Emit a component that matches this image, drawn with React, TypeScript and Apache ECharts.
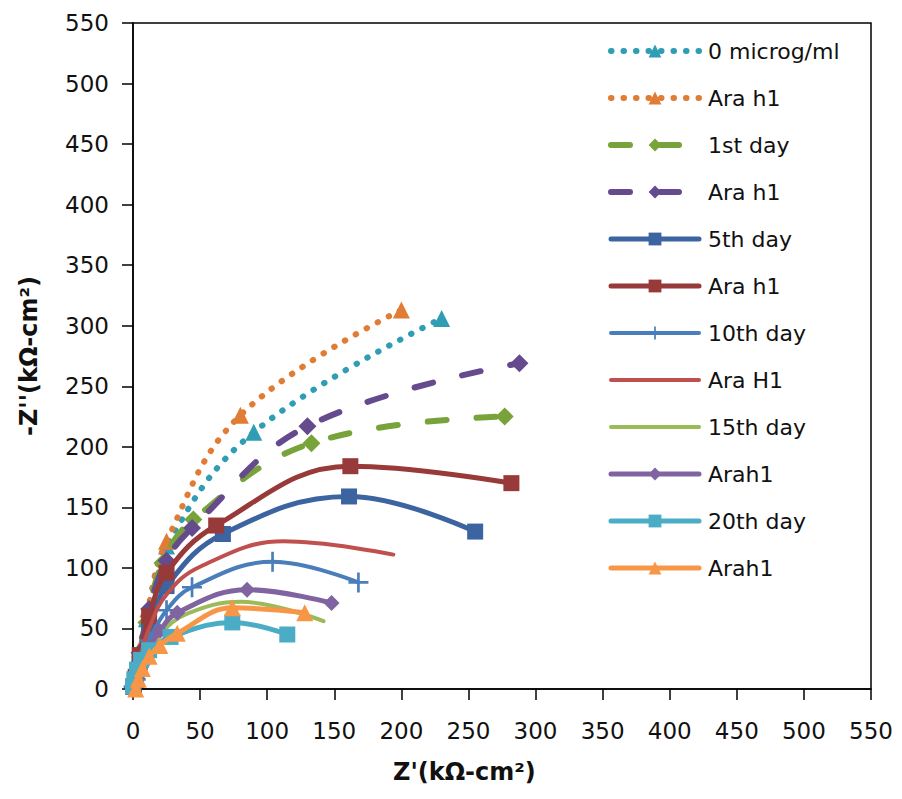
import React, { useEffect, useRef } from "react";
import * as echarts from "echarts";

const seriesNames = [
  "0 microg/ml",
  "Ara h1#1",
  "1st day",
  "Ara h1#2",
  "5th day",
  "Ara h1#3",
  "10th day",
  "Ara H1",
  "15th day",
  "Arah1#1",
  "20th day",
  "Arah1#2",
];

const s0: number[][] = [[0.5, 2], [2, 10], [5, 30], [10, 58], [25, 118], [90, 212], [230, 306]];
const s1: number[][] = [[0.5, 2], [2, 11], [5, 33], [11, 66], [25, 122], [80, 226], [200, 313]];
const s2: number[][] = [[0.5, 2], [2, 10], [5, 30], [10, 55], [22, 104], [45, 140], [133, 203], [277, 225]];
const s3: number[][] = [[0.5, 2], [2, 10], [5, 30], [12, 66], [25, 106], [44, 133], [130, 217], [288, 269]];
const s4: number[][] = [[0.5, 2], [2, 8], [5, 22], [12, 50], [25, 85], [67, 128], [161, 159], [255, 130]];
const s5: number[][] = [[0.5, 2], [2, 10], [5, 28], [12, 60], [25, 96], [62, 135], [162, 184], [282, 170]];
const s6: number[][] = [[0.5, 2], [2, 8], [5, 20], [12, 40], [25, 65], [44, 84], [104, 105], [168, 88]];
const s7: number[][] = [[0.5, 2], [2, 9], [5, 25], [12, 50], [25, 78], [50, 101], [112, 122], [194, 111]];
const s8: number[][] = [[0.5, 1], [2, 6], [5, 15], [10, 28], [20, 45], [40, 62], [80, 72], [142, 56]];
const s9: number[][] = [[0.5, 1], [2, 6], [5, 15], [10, 30], [20, 48], [33, 63], [85, 82], [148, 71]];
const s10: number[][] = [[0, 2], [1, 8], [3, 16], [6, 24], [12, 32], [28, 43], [74, 55], [115, 45]];
const s11: number[][] = [[2, 0], [4, 8], [7, 17], [12, 27], [20, 36], [33, 46], [74, 67], [128, 63]];

const seriesData = [s0, s1, s2, s3, s4, s5, s6, s7, s8, s9, s10, s11];

const xTicks = { min: 0, max: 550, interval: 50 };
const yTicks = { min: 0, max: 550, interval: 50 };

const colors = [
  "#2f9db3",
  "#e07c34",
  "#77a33a",
  "#664a8e",
  "#3b64a0",
  "#983a39",
  "#4a7ebb",
  "#c0504d",
  "#9bbb59",
  "#8064a2",
  "#4bacc6",
  "#f79646",
];

const PLUS = "path://M-1.2,-9h2.4v18h-2.4z M-9,-1.2h18v2.4h-18z";

const styles: any[] = [
  { dash: [0.5, 12], width: 6, symbol: "triangle", size: 17 },
  { dash: [0.5, 12], width: 6, symbol: "triangle", size: 17 },
  { dash: [19, 30], width: 6, symbol: "diamond", size: 18 },
  { dash: [19, 30], width: 6, symbol: "diamond", size: 18 },
  { dash: "solid", width: 5, symbol: "rect", size: 16 },
  { dash: "solid", width: 5, symbol: "rect", size: 16 },
  { dash: "solid", width: 4, symbol: PLUS, size: 20 },
  { dash: "solid", width: 4, symbol: "none", size: 0 },
  { dash: "solid", width: 4, symbol: "none", size: 0 },
  { dash: "solid", width: 5, symbol: "diamond", size: 16 },
  { dash: "solid", width: 5, symbol: "rect", size: 16 },
  { dash: "solid", width: 5, symbol: "triangle", size: 17 },
];

const FONT = "DejaVu Sans";

export default function App() {
  const ref = useRef<HTMLDivElement>(null);
  useEffect(() => {
    if (!ref.current) return;
    const chart = echarts.init(ref.current, undefined, { renderer: "svg" });
    const series = seriesNames.map((name, i) => ({
      name,
      type: "line",
      data: seriesData[i],
      smooth: 0.4,
      symbol: styles[i].symbol,
      symbolSize: styles[i].size,
      showSymbol: styles[i].symbol !== "none",
      itemStyle: { color: colors[i] },
      lineStyle: {
        color: colors[i],
        width: styles[i].width,
        type: styles[i].dash,
        cap: "round",
      },
      z: 2 + i,
    }));
    const legendData = seriesNames.map((name, i) => ({
      name,
      lineStyle: {
        color: colors[i],
        width: styles[i].width,
        type: styles[i].dash,
        cap: "round",
      },
      itemStyle: styles[i].symbol === "none" ? { opacity: 0 } : { color: colors[i] },
    }));
    chart.setOption({
      animation: false,
      grid: {
        left: 133,
        right: 31,
        top: 23,
        bottom: 110,
        show: true,
        borderColor: "#000",
        borderWidth: 1.5,
        containLabel: false,
      },
      xAxis: {
        type: "value",
        min: xTicks.min,
        max: xTicks.max,
        interval: xTicks.interval,
        axisLine: { show: true, lineStyle: { color: "#000", width: 1.5 } },
        axisTick: { show: true, length: 11, lineStyle: { color: "#000", width: 1.5 } },
        splitLine: { show: false },
        axisLabel: { margin: 30, fontSize: 23, color: "#111", fontFamily: FONT },
      },
      yAxis: {
        type: "value",
        min: yTicks.min,
        max: yTicks.max,
        interval: yTicks.interval,
        axisLine: { show: true, lineStyle: { color: "#000", width: 1.5 } },
        axisTick: { show: true, length: 11, lineStyle: { color: "#000", width: 1.5 } },
        splitLine: { show: false },
        axisLabel: { margin: 24, fontSize: 23, color: "#111", fontFamily: FONT },
        name: "-Z''(kΩ-cm²)",
        nameLocation: "middle",
        nameGap: 92,
        nameTextStyle: { fontSize: 24, fontWeight: "bold", color: "#111", fontFamily: FONT },
      },
      legend: {
        orient: "vertical",
        left: 603,
        top: 35,
        itemWidth: 88,
        itemHeight: 16,
        itemGap: 25,
        data: legendData,
        formatter: (n: string) => n.replace(/#\d+$/, ""),
        textStyle: { fontSize: 22, color: "#111", fontFamily: FONT, padding: [0, 0, 0, 4] },
      },
      graphic: [
        {
          type: "text",
          left: 393,
          top: 760,
          style: {
            text: "Z'(kΩ-cm²)",
            fontSize: 24,
            fontWeight: "bold",
            fill: "#111",
            fontFamily: FONT,
          },
        },
      ],
      series,
    });
    return () => chart.dispose();
  }, []);
  return <div ref={ref} style={{ width: 902, height: 799, margin: -8 }} />;
}
